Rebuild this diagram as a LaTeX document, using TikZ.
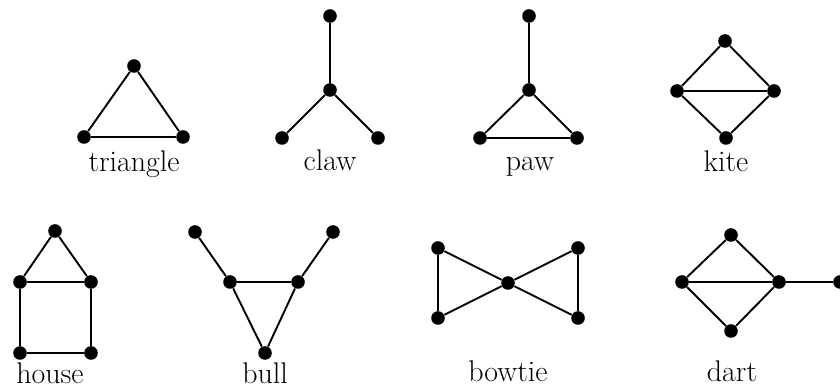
\documentclass[tikz,border=0pt]{standalone}
\usepackage{tikz}
\tikzset{
  vtx/.style ={circle, fill=black, inner sep=0pt, minimum size=6.8bp},
  edg/.style ={draw=black, line width=0.95bp},
  gname/.style ={font=\fontsize{15}{18}\selectfont, anchor=base, inner sep=0pt},
}

\begin{document}
\begin{tikzpicture}[x=0.5bp,y=-0.5bp]
  \useasboundingbox (0,0) rectangle (840,388);
  % triangle
  \node[vtx] (t1) at (134,66) {};
  \node[vtx] (t2) at (84,137) {};
  \node[vtx] (t3) at (183,137) {};
  \draw[edg] (t1) -- (t2) -- (t3) -- (t1);
  \node[gname] (ltri) at (134,172) {triangle};
  % claw
  \node[vtx] (c0) at (330,90) {};
  \node[vtx] (c1) at (330,16) {};
  \node[vtx] (c2) at (282,138) {};
  \node[vtx] (c3) at (378,138) {};
  \draw[edg] (c0) -- (c1);
  \draw[edg] (c0) -- (c2);
  \draw[edg] (c0) -- (c3);
  \node[gname] (lclaw) at (330,171) {claw};
  % paw
  \node[vtx] (p0) at (529,90) {};
  \node[vtx] (p1) at (529,16) {};
  \node[vtx] (p2) at (480,138) {};
  \node[vtx] (p3) at (577,138) {};
  \draw[edg] (p0) -- (p1);
  \draw[edg] (p0) -- (p2) -- (p3) -- (p0);
  \node[gname] (lpaw) at (530,171) {paw};
  % kite
  \node[vtx] (k1) at (725,41) {};
  \node[vtx] (k2) at (677,91) {};
  \node[vtx] (k3) at (774,91) {};
  \node[vtx] (k4) at (726,138) {};
  \draw[edg] (k1) -- (k2) -- (k4) -- (k3) -- (k1);
  \draw[edg] (k2) -- (k3);
  \node[gname] (lkite) at (726,172) {kite};
  % house
  \node[vtx] (h1) at (55,231) {};
  \node[vtx] (h2) at (20,282) {};
  \node[vtx] (h3) at (91,282) {};
  \node[vtx] (h4) at (20,353) {};
  \node[vtx] (h5) at (91,353) {};
  \draw[edg] (h1) -- (h2) -- (h3) -- (h1);
  \draw[edg] (h2) -- (h4) -- (h5) -- (h3);
  \node[gname] (lhouse) at (50,384) {house};
  % bull
  \node[vtx] (b1) at (195,232) {};
  \node[vtx] (b2) at (333,232) {};
  \node[vtx] (b3) at (230,282) {};
  \node[vtx] (b4) at (298,282) {};
  \node[vtx] (b5) at (265,353) {};
  \draw[edg] (b1) -- (b3) -- (b4) -- (b2);
  \draw[edg] (b3) -- (b5) -- (b4);
  \node[gname] (lbull) at (265,384) {bull};
  % bowtie
  \node[vtx] (w0) at (508,283) {};
  \node[vtx] (w1) at (438,248) {};
  \node[vtx] (w2) at (438,318) {};
  \node[vtx] (w3) at (578,248) {};
  \node[vtx] (w4) at (578,318) {};
  \draw[edg] (w0) -- (w1) -- (w2) -- (w0);
  \draw[edg] (w0) -- (w3) -- (w4) -- (w0);
  \node[gname] (lbow) at (508,382) {bowtie};
  % dart
  \node[vtx] (d1) at (731,235) {};
  \node[vtx] (d2) at (682,282) {};
  \node[vtx] (d3) at (779,282) {};
  \node[vtx] (d4) at (731,331) {};
  \node[vtx] (d5) at (840,282) {};
  \draw[edg] (d1) -- (d2) -- (d4) -- (d3) -- (d1);
  \draw[edg] (d2) -- (d3) -- (d5);
  \node[gname] (ldart) at (732,382) {dart};
\end{tikzpicture}
\end{document}
